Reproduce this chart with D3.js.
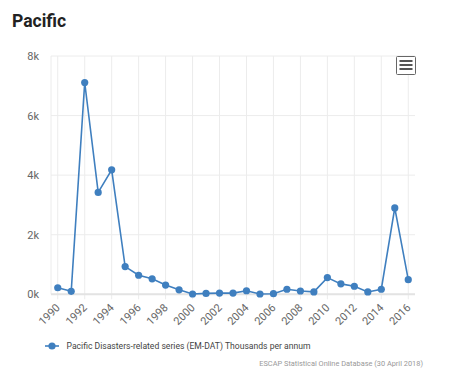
<!DOCTYPE html>
<html><head><meta charset="utf-8">
<script src="https://cdn.jsdelivr.net/npm/d3@7"></script>
<style>body{margin:0;background:#fff;}svg{display:block;font-family:Roboto,"Open Sans",sans-serif;}</style>
</head><body>
<svg id="c" width="469" height="392"></svg>
<script>
const years = [1990,1991,1992,1993,1994,1995,1996,1997,1998,1999,2000,2001,2002,2003,2004,2005,2006,2007,2008,2009,2010,2011,2012,2013,2014,2015,2016];
const values = [220,100,7110,3420,4180,930,640,520,310,150,10,30,40,40,120,10,20,170,110,80,560,350,270,80,170,2900,490];
const xTicks = [1990,1992,1994,1996,1998,2000,2002,2004,2006,2008,2010,2012,2014,2016];
const yTicks = [0,2000,4000,6000,8000];
const seriesName = "Pacific Disasters-related series (EM-DAT) Thousands per annum";
const title = "Pacific";
const credits = "ESCAP Statistical Online Database (30 April 2018)";
const color = "#3f7fbf";

const svg = d3.select("#c");
const L = 51, R = 415, T = 56, B = 294.3;
const x = d3.scaleLinear().domain([1989.5, 2016.5]).range([L, R]);
const y = d3.scaleLinear().domain([0, 8000]).range([B, T]);

svg.append("text").attr("x", 12).attr("y", 27).attr("font-size", 17.5).attr("font-weight", "bold").attr("fill", "#222").text(title);

// horizontal grid
svg.append("g").selectAll("line").data(yTicks).join("line")
  .attr("x1", L).attr("x2", R).attr("y1", d => y(d)).attr("y2", d => y(d))
  .attr("stroke", "#ececec").attr("stroke-width", 1);
// vertical grid
svg.append("g").selectAll("line").data(xTicks).join("line")
  .attr("x1", d => x(d)).attr("x2", d => x(d)).attr("y1", T).attr("y2", B + 5)
  .attr("stroke", "#ececec").attr("stroke-width", 1);
svg.append("line").attr("x1", L).attr("x2", L).attr("y1", T).attr("y2", B).attr("stroke", "#ececec");
// x axis line
svg.append("line").attr("x1", L).attr("x2", R).attr("y1", B).attr("y2", B).attr("stroke", "#e3e3e3").attr("stroke-width", 2);

// y labels
svg.append("g").selectAll("text").data(yTicks).join("text")
  .attr("x", 39).attr("y", d => y(d) + 4).attr("text-anchor", "end")
  .attr("font-size", 11).attr("fill", "#666").text(d => (d / 1000) + "k");
// x labels
svg.append("g").selectAll("text").data(xTicks).join("text")
  .attr("text-anchor", "end").attr("font-size", 11).attr("fill", "#666")
  .attr("transform", d => `translate(${x(d) + 3},${B + 14}) rotate(-45)`).text(d => d);

// line
svg.append("path").datum(years.map((yr, i) => [yr, values[i]]))
  .attr("fill", "none").attr("stroke", color).attr("stroke-width", 1.6)
  .attr("d", d3.line().x(d => x(d[0])).y(d => y(d[1])));
svg.append("g").selectAll("circle").data(years.map((yr, i) => [yr, values[i]])).join("circle")
  .attr("cx", d => x(d[0])).attr("cy", d => y(d[1])).attr("r", 3.6).attr("fill", color);

// menu button
const mb = svg.append("g");
mb.append("rect").attr("x", 396.5).attr("y", 56.5).attr("width", 19).attr("height", 18).attr("rx", 1).attr("fill", "#fff").attr("stroke", "#666").attr("stroke-width", 1);
[61, 65, 69].forEach(yy => mb.append("line").attr("x1", 399.5).attr("x2", 412.5).attr("y1", yy).attr("y2", yy).attr("stroke", "#555").attr("stroke-width", 2));

// legend
svg.append("line").attr("x1", 45).attr("x2", 59).attr("y1", 346).attr("y2", 346).attr("stroke", color).attr("stroke-width", 1.6);
svg.append("circle").attr("cx", 52).attr("cy", 346).attr("r", 3.6).attr("fill", color);
svg.append("text").attr("x", 66.5).attr("y", 349).attr("font-size", 8.6).attr("fill", "#444").text(seriesName);

svg.append("text").attr("x", 423).attr("y", 366).attr("text-anchor", "end").attr("font-size", 7.4).attr("fill", "#999").text(credits);
</script>
</body></html>
